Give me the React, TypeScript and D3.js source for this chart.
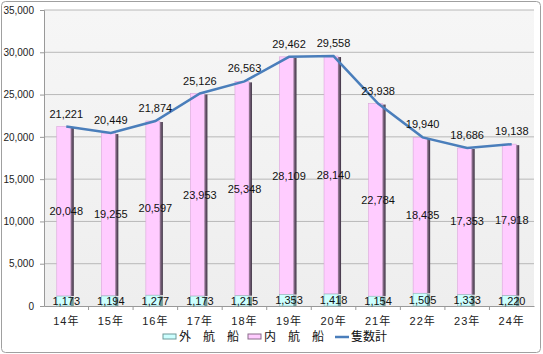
import { useEffect, useRef } from "react";
import * as d3 from "d3";

const years = ["14年", "15年", "16年", "17年", "18年", "19年", "20年", "21年", "22年", "23年", "24年"];
const outer = [1173, 1194, 1277, 1173, 1215, 1353, 1418, 1154, 1505, 1333, 1220];
const inner = [20048, 19255, 20597, 23953, 25348, 28109, 28140, 22784, 18435, 17353, 17918];
const total = [21221, 20449, 21874, 25126, 26563, 29462, 29558, 23938, 19940, 18686, 19138];
const yTicks = [0, 5000, 10000, 15000, 20000, 25000, 30000, 35000];
const legendNames = ["外　航　船", "内　航　船", "隻数計"];

const W = 543, H = 354;
const margin = { top: 10, right: 9, bottom: 48, left: 44 };
const font = "'Liberation Sans', Arial, 'Noto Sans CJK JP', sans-serif";

export default function App() {
  const ref = useRef<SVGSVGElement>(null);

  useEffect(() => {
    document.body.style.margin = "0";
    const svg = d3.select(ref.current);
    svg.selectAll("*").remove();

    const x = d3.scaleBand().domain(years).range([margin.left, W - margin.right]);
    const y = d3.scaleLinear().domain([0, 35000]).range([H - margin.bottom, margin.top]);
    const fmt = d3.format(",");

    const defs = svg.append("defs");
    const bg = defs.append("linearGradient").attr("id", "bg").attr("x1", 0).attr("y1", 0).attr("x2", 0).attr("y2", 1);
    bg.append("stop").attr("offset", "0%").attr("stop-color", "#f6f6f6");
    bg.append("stop").attr("offset", "100%").attr("stop-color", "#eeeeee");
    const sh = defs.append("linearGradient").attr("id", "sh").attr("x1", 0).attr("y1", 0).attr("x2", 1).attr("y2", 0);
    sh.append("stop").attr("offset", "0%").attr("stop-color", "#9a7c9a");
    sh.append("stop").attr("offset", "100%").attr("stop-color", "#3a3040");

    // outer frame
    svg.append("rect").attr("x", 1.5).attr("y", 1.5).attr("width", W - 4).attr("height", H - 3)
      .attr("rx", 4).attr("fill", "#fff").attr("stroke", "#a0a0a0");

    // plot area
    svg.append("rect").attr("x", margin.left).attr("y", margin.top)
      .attr("width", W - margin.left - margin.right).attr("height", H - margin.top - margin.bottom)
      .attr("fill", "url(#bg)");

    svg.append("g").selectAll("line").data(yTicks.slice(1)).join("line")
      .attr("x1", margin.left).attr("x2", W - margin.right)
      .attr("y1", d => y(d)).attr("y2", d => y(d))
      .attr("stroke", "#b8b8b8").attr("stroke-width", 1);

    // y axis
    const ya = svg.append("g").attr("transform", `translate(${margin.left},0)`)
      .call(d3.axisLeft(y).tickValues(yTicks).tickFormat(d => fmt(d as number)).tickSize(4).tickPadding(6));
    ya.select(".domain").attr("stroke", "#999");
    ya.selectAll(".tick line").attr("stroke", "#999");
    ya.selectAll("text").attr("font-size", 10).attr("font-family", font).attr("fill", "#222");

    // x axis
    const xa = svg.append("g").attr("transform", `translate(0,${H - margin.bottom})`)
      .call(d3.axisBottom(x).tickSize(0).tickPadding(11));
    xa.select(".domain").attr("stroke", "#999");
    xa.selectAll("text").attr("font-size", 11).attr("font-family", font).attr("fill", "#222")
      .attr("letter-spacing", 1);
    xa.selectAll(".sep").data(years.slice(1)).join("line").attr("class", "sep")
      .attr("x1", d => x(d)!).attr("x2", d => x(d)!).attr("y1", 0).attr("y2", 4).attr("stroke", "#999");

    const bw = 17;
    const bx = (i: number) => x(years[i])! + x.bandwidth() / 2 - bw / 2 - 1;

    const bars = svg.append("g").selectAll("g").data(years).join("g");
    // inner (pink)
    bars.append("rect")
      .attr("x", (d, i) => bx(i)).attr("y", (d, i) => y(outer[i] + inner[i]))
      .attr("width", bw - 3).attr("height", (d, i) => y(outer[i]) - y(outer[i] + inner[i]))
      .attr("fill", "#ffccff").attr("stroke", "#d9a6d9").attr("stroke-width", 0.6);
    bars.append("rect")
      .attr("x", (d, i) => bx(i) + bw - 3).attr("y", (d, i) => y(outer[i] + inner[i]) + 1)
      .attr("width", 3).attr("height", (d, i) => y(outer[i]) - y(outer[i] + inner[i]) - 1)
      .attr("fill", "url(#sh)");
    // outer (cyan)
    bars.append("rect")
      .attr("x", (d, i) => bx(i)).attr("y", (d, i) => y(outer[i]))
      .attr("width", bw - 3).attr("height", (d, i) => y(0) - y(outer[i]))
      .attr("fill", "#ccffff").attr("stroke", "#8fb5b5").attr("stroke-width", 0.6);
    bars.append("rect")
      .attr("x", (d, i) => bx(i) + bw - 3).attr("y", (d, i) => y(outer[i]) + 1)
      .attr("width", 3).attr("height", (d, i) => y(0) - y(outer[i]) - 1)
      .attr("fill", "#6f9a9a");

    // line
    const line = d3.line<number>().x((d, i) => x(years[i])! + x.bandwidth() / 2).y(d => y(d));
    svg.append("path").datum(total).attr("d", line).attr("fill", "none")
      .attr("stroke", "#4a7ebb").attr("stroke-width", 2.5);

    // labels
    const lab = svg.append("g").attr("font-family", font).attr("font-size", 11)
      .attr("fill", "#111").attr("text-anchor", "middle");
    const cx = (i: number) => x(years[i])! + x.bandwidth() / 2;
    lab.selectAll(".o").data(outer).join("text").attr("class", "o")
      .attr("x", (d, i) => cx(i)).attr("y", d => y(d / 2) + 4).text(d => fmt(d));
    lab.selectAll(".n").data(inner).join("text").attr("class", "n")
      .attr("x", (d, i) => cx(i)).attr("y", (d, i) => y(outer[i] + d / 2) + 4).text(d => fmt(d));
    lab.selectAll(".t").data(total).join("text").attr("class", "t")
      .attr("x", (d, i) => cx(i)).attr("y", d => y(d) - 9).text(d => fmt(d));

    // legend
    const lg = svg.append("g").attr("font-family", "'Noto Sans CJK JP', sans-serif").attr("font-size", 12).attr("fill", "#111");
    const lx = [163, 248, 335];
    lg.append("rect").attr("x", lx[0]).attr("y", 334).attr("width", 13).attr("height", 5)
      .attr("fill", "#ccffff").attr("stroke", "#6f9a9a");
    lg.append("rect").attr("x", lx[1]).attr("y", 334).attr("width", 13).attr("height", 5)
      .attr("fill", "#ffccff").attr("stroke", "#8a6c8a");
    lg.append("line").attr("x1", lx[2]).attr("x2", lx[2] + 14).attr("y1", 337).attr("y2", 337)
      .attr("stroke", "#4a7ebb").attr("stroke-width", 2.5);
    lg.selectAll("text").data(legendNames).join("text")
      .attr("x", (d, i) => lx[i] + 16).attr("y", 341).text(d => d);
  }, []);

  return <svg ref={ref} width={W} height={H} style={{ display: "block" }} />;
}
